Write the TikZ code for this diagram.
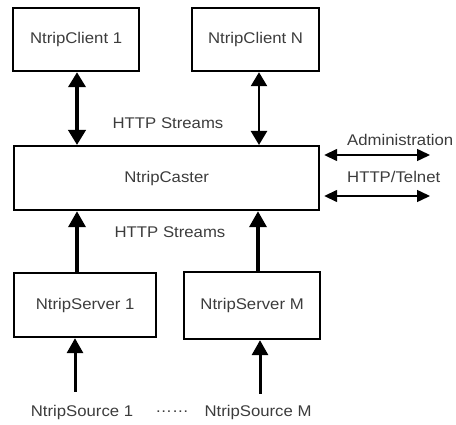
\documentclass[tikz,border=0pt]{standalone}
\usepackage{fontspec}
\setmainfont{Liberation Sans}[FakeStretch=1.08]
\usetikzlibrary{arrows.meta}
\definecolor{txt}{HTML}{3C3C3C}
\tikzset{
  box/.style={draw=black, line width=2.2pt, minimum height=63pt, inner sep=0pt,
              font=\fontsize{15.5}{18}\selectfont, text=txt, anchor=north west},
  lbl/.style={font=\fontsize{15.5}{18}\selectfont, text=txt, inner sep=0pt},
  heavy/.style={line width=4pt, {Triangle[length=15pt,width=17pt]}-{Triangle[length=15pt,width=17pt]}},
  medium/.style={line width=2.4pt, {Triangle[length=14pt,width=16pt]}-{Triangle[length=14pt,width=16pt]}},
  up/.style={line width=3.6pt, -{Triangle[length=16pt,width=17pt]}},
  upthin/.style={line width=3pt, -{Triangle[length=15pt,width=16pt]}},
  admin/.style={line width=1.5pt, {Triangle[length=13pt,width=12pt]}-{Triangle[length=13pt,width=12pt]}}
}
\begin{document}
\begin{tikzpicture}[x=1pt,y=-1pt]
\useasboundingbox (0,0) rectangle (456,425);

% clients
\node[box, minimum width=126pt] (c1) at (12,7) {NtripClient 1};
\node[box, minimum width=127pt] (cn) at (191,7) {NtripClient N};

% caster
\node[box, minimum width=305pt, minimum height=64pt] (caster) at (13,145) {NtripCaster};

% servers
\node[box, minimum width=142pt, minimum height=64pt] (s1) at (13,272) {NtripServer 1};
\node[box, minimum width=136pt, minimum height=67pt] (sm) at (183,271) {NtripServer M};

% sources
\node[lbl] (src1) at (82,412) {NtripSource 1};
\node[lbl] (dots) at (172,412) {……};
\node[lbl] (srcm) at (258,412) {NtripSource M};

% stream labels
\node[lbl] (hs1) at (168,123) {HTTP Streams};
\node[lbl] (hs2) at (170,232) {HTTP Streams};

% administration
\node[lbl, anchor=west] (adm) at (347,140) {Administration};
\node[lbl, anchor=west] (tel) at (347,177) {HTTP/Telnet};
\coordinate (a1) at (430,155);
\coordinate (a2) at (430,196);

% column positions
\coordinate (x1) at (77,0);
\coordinate (xn) at (259,0);
\coordinate (xs1) at (77,0);
\coordinate (xsm) at (258,0);
\coordinate (xq1) at (75,392);
\coordinate (xqm) at (260,394);

% client <-> caster
\draw[heavy] (c1.south -| x1) -- (caster.north -| x1);
\draw[medium] (cn.south -| xn) -- (caster.north -| xn);

% server -> caster
\draw[up] (s1.north -| xs1) -- (caster.south -| xs1);
\draw[up] (sm.north -| xsm) -- (caster.south -| xsm);

% source -> server
\draw[upthin] (xq1) -- (s1.south -| xq1);
\draw[upthin] (xqm) -- (sm.south -| xqm);

% administration links
\draw[admin] (caster.east |- a1) ++(4,0) coordinate (e1) (e1) -- (a1);
\draw[admin] (caster.east |- a2) ++(4,0) coordinate (e2) (e2) -- (a2);
\end{tikzpicture}
\end{document}
